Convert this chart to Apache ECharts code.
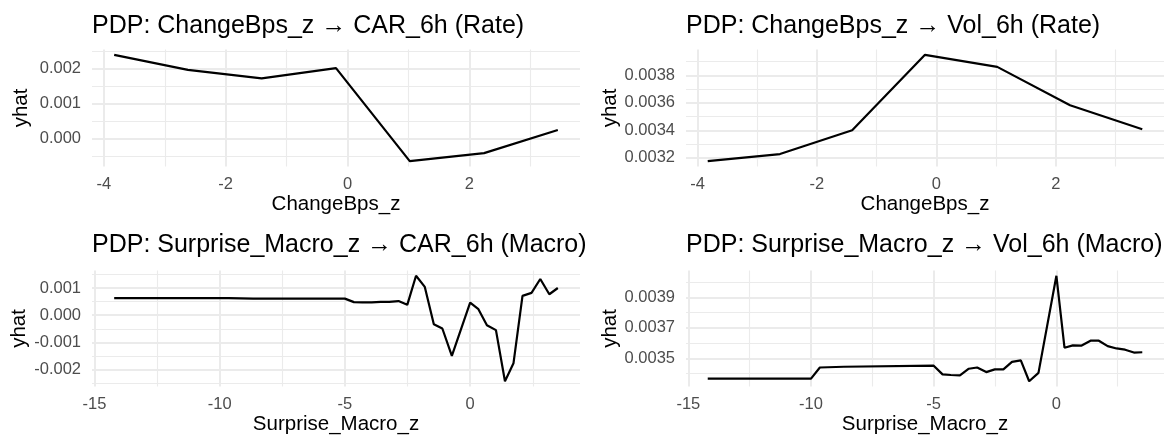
<!DOCTYPE html>
<html>
<head>
<meta charset="utf-8">
<script src="https://cdn.jsdelivr.net/npm/echarts@6/dist/echarts.min.js"></script>
<style>
  html, body { margin: 0; padding: 0; background: #fff; }
  #chart { width: 1167px; height: 436px; }
</style>
</head>
<body>
<div id="chart"></div>
<script>
// grid of ChangeBps_z where the PDP was evaluated
const bpsX = [-3.83, -2.62, -1.41, -0.19, 1.02, 2.24, 3.45]
const bpsCar = [0.00239, 0.00196, 0.00172, 0.00201, -0.00064, -0.00041, 0.00025]
const bpsVol = [0.003175, 0.003227, 0.003400, 0.003950, 0.003862, 0.003582, 0.003408]

// grid of Surprise_Macro_z
const macroX = [-14.21, -10.0, -9.64, -8.66, -5.0, -4.64, -4.3, -3.93, -3.57, -3.23,
  -2.86, -2.51, -2.16, -1.81, -1.45, -1.11, -0.73, 0.0, 0.33, 0.67,
  1.03, 1.39, 1.73, 2.09, 2.45, 2.80, 3.16, 3.50]
const macroCar = [0.00063, 0.00063, 0.00063, 0.00061, 0.00061, 0.00048, 0.00047, 0.00047, 0.00049, 0.00049,
  0.00052, 0.00038, 0.00145, 0.00104, -0.00033, -0.00049, -0.00150, 0.00046, 0.00022, -0.00037,
  -0.00055, -0.00243, -0.00177, 0.00071, 0.00082, 0.00133, 0.00077, 0.00100]
const macroVol = [0.003367, 0.003367, 0.003440, 0.003445, 0.003452, 0.003395, 0.003391, 0.003388, 0.003432, 0.003440,
  0.003410, 0.003428, 0.003428, 0.003477, 0.003487, 0.003350, 0.003405, 0.004042, 0.003570, 0.003585,
  0.003584, 0.003616, 0.003616, 0.003580, 0.003565, 0.003557, 0.003538, 0.003540]

const titles = [
  'PDP: ChangeBps_z \u2192 CAR_6h (Rate)',
  'PDP: ChangeBps_z \u2192 Vol_6h (Rate)',
  'PDP: Surprise_Macro_z \u2192 CAR_6h (Macro)',
  'PDP: Surprise_Macro_z \u2192 Vol_6h (Macro)'
]
const xNames = ['ChangeBps_z', 'ChangeBps_z', 'Surprise_Macro_z', 'Surprise_Macro_z']

const font = '"Liberation Sans", Arial, Helvetica, sans-serif'
const majorLine = { color: '#ebebeb', width: 2 }
const minorLine = { color: '#ebebeb', width: 1.1 }
const tickFont = 16.5
const nameFont = 20.5

// ggplot style 5% padding on each side
function expand(vals) {
  const lo = Math.min(...vals), hi = Math.max(...vals), d = (hi - lo) * 0.05
  return [lo - d, hi + d]
}
function onStep(v, step) {
  const k = v / step
  return Math.abs(k - Math.round(k)) < 1e-6
}
function pairs(xs, ys) {
  return xs.map((x, i) => [x, ys[i]])
}

const panels = [
  { xs: bpsX, ys: bpsCar, xStep: 2, yStep: 0.001, digits: 3 },
  { xs: bpsX, ys: bpsVol, xStep: 2, yStep: 0.0002, digits: 4 },
  { xs: macroX, ys: macroCar, xStep: 5, yStep: 0.001, digits: 3 },
  { xs: macroX, ys: macroVol, xStep: 5, yStep: 0.0002, digits: 4 }
]

const grids = [
  { left: 92, top: 49.5, width: 488, height: 117 },
  { left: 686, top: 49.5, width: 488, height: 117 },
  { left: 92, top: 270.5, width: 488, height: 116 },
  { left: 686, top: 270.5, width: 488, height: 116 }
]

const xAxes = panels.map((p, i) => {
  const r = expand(p.xs)
  return {
    gridIndex: i, type: 'value', min: r[0], max: r[1],
    minInterval: p.xStep, maxInterval: p.xStep,
    name: xNames[i], nameLocation: 'middle', nameGap: 27,
    nameTextStyle: { fontSize: nameFont, color: '#000', fontFamily: font },
    axisLine: { show: false }, axisTick: { show: false },
    axisLabel: {
      margin: 9, fontSize: tickFont, color: '#4d4d4d', fontFamily: font,
      formatter: v => onStep(v, p.xStep) ? String(Math.round(v)) : ''
    },
    splitLine: { show: true, showMinLine: false, showMaxLine: false, lineStyle: majorLine },
    minorTick: { show: false, splitNumber: 2 },
    minorSplitLine: { show: true, lineStyle: minorLine }
  }
})

const yAxes = panels.map((p, i) => {
  const r = expand(p.ys)
  const ax = {
    gridIndex: i, type: 'value', position: 'left', min: r[0], max: r[1],
    minInterval: p.yStep, maxInterval: p.yStep,
    name: 'yhat', nameLocation: 'middle', nameGap: i % 2 ? 65 : 60,
    nameTextStyle: { fontSize: nameFont, color: '#000', fontFamily: font },
    axisLine: { show: false }, axisTick: { show: false },
    axisLabel: {
      margin: 11, fontSize: tickFont, color: '#4d4d4d', fontFamily: font,
      formatter: v => onStep(v, p.yStep) ? v.toFixed(p.digits) : ''
    },
    splitLine: { show: true, showMinLine: false, showMaxLine: false, lineStyle: majorLine },
    minorTick: { show: false, splitNumber: 2 },
    minorSplitLine: { show: true, lineStyle: minorLine }
  }
  if (i === 3) {
    // labelled breaks sit on the odd 0.0001 steps here, so the main lines swap roles
    ax.axisLabel.show = false
    ax.splitLine.lineStyle = minorLine
    ax.minorSplitLine.lineStyle = majorLine
  }
  return ax
})
// label-only axis for the last panel (0.0035, 0.0037, 0.0039)
const r4 = expand(macroVol)
yAxes.push({
  gridIndex: 3, type: 'value', position: 'left', offset: 0, min: r4[0], max: r4[1],
  minInterval: 0.0001, maxInterval: 0.0001,
  axisLine: { show: false }, axisTick: { show: false },
  splitLine: { show: false },
  axisLabel: {
    margin: 11, fontSize: tickFont, color: '#4d4d4d', fontFamily: font,
    formatter: v => (onStep(v, 0.0001) && Math.round(v * 10000) % 2 === 1) ? v.toFixed(4) : ''
  }
})

const chart = echarts.init(document.getElementById('chart'), null, { renderer: 'canvas' })
chart.setOption({
  animation: false,
  backgroundColor: '#fff',
  title: titles.map((t, i) => ({
    text: t, left: grids[i].left, top: i < 2 ? 14 : 233, padding: 0,
    textStyle: { fontSize: 25, fontWeight: 'normal', color: '#000', fontFamily: font }
  })),
  grid: grids,
  xAxis: xAxes,
  yAxis: yAxes,
  series: panels.map((p, i) => ({
    type: 'line', xAxisIndex: i, yAxisIndex: i,
    data: pairs(p.xs, p.ys),
    showSymbol: false, silent: true,
    lineStyle: { color: '#000', width: 2.2 }
  }))
})
</script>
</body>
</html>
